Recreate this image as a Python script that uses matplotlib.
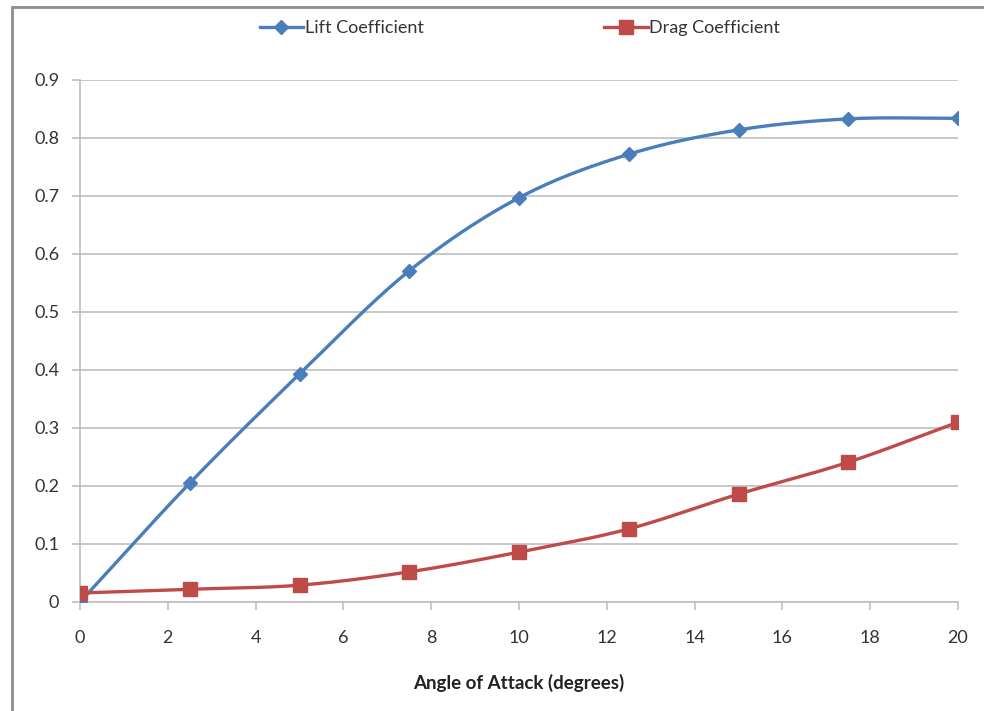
import numpy as np
import matplotlib
matplotlib.use('Agg')
import matplotlib.pyplot as plt
from matplotlib.patches import Rectangle

angle = [0, 2.5, 5, 7.5, 10, 12.5, 15, 17.5, 20]
lift = [0.0, 0.205, 0.393, 0.571, 0.697, 0.772, 0.814, 0.833, 0.834]
drag = [0.0155, 0.022, 0.029, 0.052, 0.086, 0.126, 0.186, 0.241, 0.310]

BLUE = "#4A7EBB"
RED = "#BE4B48"
GRID = "#BFBFBF"

plt.rcParams['font.family'] = ['Lato', 'DejaVu Sans']


def smooth(x, y, n=30):
    # Catmull-Rom through the points, like a spreadsheet "smoothed line"
    p = np.column_stack([x, y]).astype(float)
    p = np.vstack([2 * p[0] - p[1], p, 2 * p[-1] - p[-2]])
    out = []
    for i in range(1, len(p) - 2):
        p0, p1, p2, p3 = p[i - 1], p[i], p[i + 1], p[i + 2]
        t = np.linspace(0, 1, n, endpoint=False)[:, None]
        seg = 0.5 * ((2 * p1) + (-p0 + p2) * t + (2 * p0 - 5 * p1 + 4 * p2 - p3) * t**2
                     + (-p0 + 3 * p1 - 3 * p2 + p3) * t**3)
        out.append(seg)
    out.append(p[-2][None, :])
    out = np.vstack(out)
    return out[:, 0], out[:, 1]


fig = plt.figure(figsize=(9.84, 7.11), dpi=100)
ax = fig.add_axes([80 / 984, 1 - 602 / 711, (958 - 80) / 984, (602 - 80) / 711])

# chart frame
fig.patches.append(Rectangle((12 / 984, -0.05), 1.1, 1 - 7 / 711 + 0.05,
                             transform=fig.transFigure, fill=False,
                             edgecolor="#8C8C8C", linewidth=2))

lx, ly = smooth(angle, lift)
dx, dy = smooth(angle, drag)
ax.plot(lx, ly, color=BLUE, linewidth=2.4, zorder=3)
ax.plot(dx, dy, color=RED, linewidth=2.4, zorder=3)
ax.plot(angle, lift, linestyle="none", marker="D", markersize=7.5, color=BLUE, zorder=4)
ax.plot(angle, drag, linestyle="none", marker="s", markersize=10, color=RED, zorder=5)

ax.set_xlim(0, 20)
ax.set_ylim(0, 0.9)
ax.set_xticks(np.arange(0, 21, 2))
ax.set_yticks(np.arange(0, 0.91, 0.1))
ax.set_yticklabels(["0"] + [f"{v:.1f}" for v in np.arange(0.1, 0.91, 0.1)])
ax.yaxis.grid(True, color=GRID, linewidth=1.2)
ax.set_axisbelow(True)
for s in ["top", "right"]:
    ax.spines[s].set_visible(False)
for s in ["left", "bottom"]:
    ax.spines[s].set_color(GRID)
    ax.spines[s].set_linewidth(1.2)
ax.tick_params(axis="both", colors=GRID, labelcolor="#333333", labelsize=13, length=6, width=1.2)
ax.tick_params(axis="y", pad=9)
ax.tick_params(axis="x", pad=14)
ax.set_xlabel("Angle of Attack (degrees)", fontsize=13.5, fontweight="bold", labelpad=20, color="#222222")

h1, = ax.plot([], [], color=BLUE, linewidth=2.4, marker="D", markersize=7.5)
h2, = ax.plot([], [], color=RED, linewidth=2.4, marker="s", markersize=10)
fig.legend([h1, h2], ["Lift Coefficient", "Drag Coefficient"], loc="center",
           bbox_to_anchor=(520 / 984, 1 - 28 / 711), ncol=2, frameon=False,
           fontsize=13, handlelength=2.4, handletextpad=0.1, columnspacing=10,
           labelcolor="#333333")

fig.savefig("out.png", dpi=100)
